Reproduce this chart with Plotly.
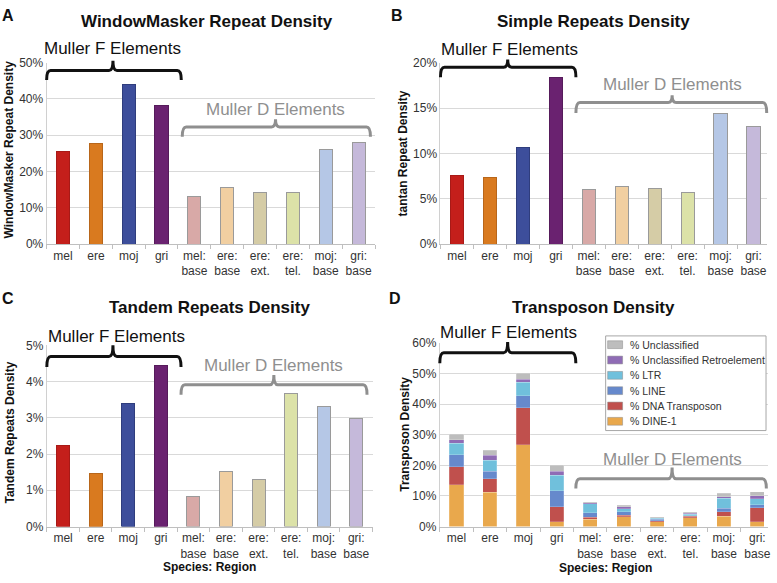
import plotly.graph_objects as go

# categories (species: region)
categories = ["mel", "ere", "moj", "gri", "mel:<br>base", "ere:<br>base",
              "ere:<br>ext.", "ere:<br>tel.", "moj:<br>base", "gri:<br>base"]
bar_colors = ["#c41f1b", "#d97a1f", "#3d4e9b", "#6a2270",
              "#d8a9a7", "#f1cfa1", "#d5cca6", "#dce2a8", "#b5c7e6", "#c5b9da"]
bar_lines = ["#a81a17", "#b8661a", "#2f3d7d", "#561b5b",
             "#9a9a9a", "#9a9a9a", "#9a9a9a", "#9a9a9a", "#9a9a9a", "#9a9a9a"]

# panel values (% density)
windowmasker = [25.6, 27.7, 43.9, 38.1, 13.1, 15.6, 14.3, 14.3, 26.1, 27.9]
tantan = [7.6, 7.3, 10.7, 18.4, 6.0, 6.4, 6.1, 5.7, 14.4, 13.0]
tandem = [2.24, 1.45, 3.39, 4.44, 0.82, 1.53, 1.31, 3.66, 3.32, 2.97]

# transposon classes (stacked)
dine1 = [13.7, 11.2, 26.7, 1.5, 2.4, 3.2, 1.6, 2.8, 3.4, 1.5]
dna_tp = [5.9, 4.5, 12.1, 4.9, 0.7, 0.5, 0.3, 0.5, 1.5, 4.6]
line_el = [3.8, 2.4, 3.9, 5.3, 1.4, 1.1, 0.4, 0.3, 1.1, 1.0]
ltr = [3.9, 3.5, 4.5, 5.1, 2.9, 1.0, 0.4, 0.4, 3.2, 2.0]
unc_retro = [1.0, 1.7, 1.0, 1.3, 0.4, 0.6, 0.2, 0.3, 0.6, 1.0]
unclassified = [1.8, 1.7, 2.0, 1.9, 0.3, 0.5, 0.3, 0.3, 1.0, 1.3]

te_names = ["% DINE-1", "% DNA Transposon", "% LINE", "% LTR",
            "% Unclassified Retroelement", "% Unclassified"]
te_values = [dine1, dna_tp, line_el, ltr, unc_retro, unclassified]
te_colors = ["#e9a84c", "#c0504d", "#6689cc", "#70c0dc", "#8f6cb5", "#bdbdbd"]

FONT = "Liberation Sans, Arial, sans-serif"
W, H = 777, 583
xpos = list(range(len(categories)))


def px(x):
    return x / W


def py(y):
    return 1 - y / H


fig = go.Figure()

panels = [("", windowmasker), ("2", tantan), ("3", tandem)]
for sfx, vals in panels:
    fig.add_trace(go.Bar(x=xpos, y=vals, width=0.4, showlegend=False,
                         marker=dict(color=bar_colors, line=dict(color=bar_lines, width=1)),
                         xaxis="x" + sfx, yaxis="y" + sfx))

for name, vals, col in zip(te_names, te_values, te_colors):
    fig.add_trace(go.Bar(x=xpos, y=vals, width=0.42, name=name, showlegend=False,
                         marker=dict(color=col, line=dict(color="rgba(255,255,255,0.4)", width=0.5)),
                         xaxis="x4", yaxis="y4"))

# pixel boxes of each plot area: left, right, top, bottom
boxes = {
    "": (46.8, 376.5, 57, 243),
    "2": (442.2, 770, 57, 243),
    "3": (47, 374, 346.7, 532.3),
    "4": (441.5, 771, 344.3, 532.3),
}
xranges = {"": [-0.5, 9.5], "2": [-0.5, 9.41], "3": [-0.5, 9.5], "4": [-0.5, 9.32]}
yinfo = {"": (50, 10), "2": (20, 5), "3": (5, 1), "4": (60, 10)}

layout = dict(
    width=W, height=H, margin=dict(l=0, r=0, t=0, b=0),
    plot_bgcolor="white", paper_bgcolor="white",
    barmode="stack", font=dict(family=FONT, color="#333333"),
)
for sfx, (l, r, t, b) in boxes.items():
    ymax, step = yinfo[sfx]
    tv = list(range(0, ymax + 1, step))
    layout["xaxis" + sfx] = dict(
        domain=[px(l), px(r)], anchor="y" + sfx, range=xranges[sfx],
        tickvals=xpos, ticktext=categories, ticks="", showgrid=False,
        showline=True, linecolor="#bfbfbf", linewidth=1,
        tickfont=dict(size=12, color="#333333"),
        minor=dict(ticks="outside", tick0=0.5, dtick=1, ticklen=4, tickcolor="#bfbfbf"),
    )
    layout["yaxis" + sfx] = dict(
        domain=[py(b), py(t)], anchor="x" + sfx, range=[0, ymax],
        tickvals=tv, ticktext=[f"{v}%" for v in tv],
        showgrid=True, gridcolor="#d9d9d9", gridwidth=1,
        showline=True, linecolor="#d0d0d0", zeroline=False,
        tickfont=dict(size=12, color="#333333"),
    )
fig.update_layout(**layout)


def bracket(sfx, x0, x1, xn, yline, yend, ynub, color, label, lx, ly):
    ymax = yinfo[sfx][0]
    xr = xranges[sfx]
    fx = lambda v: (v - xr[0]) / (xr[1] - xr[0])
    fy = lambda v: v / ymax
    rx = 0.12
    p = (f"M{fx(x0)},{fy(yend)} Q{fx(x0)},{fy(yline)} {fx(x0 + rx)},{fy(yline)} "
         f"L{fx(xn - rx)},{fy(yline)} Q{fx(xn)},{fy(yline)} {fx(xn)},{fy(ynub)} "
         f"Q{fx(xn)},{fy(yline)} {fx(xn + rx)},{fy(yline)} "
         f"L{fx(x1 - rx)},{fy(yline)} Q{fx(x1)},{fy(yline)} {fx(x1)},{fy(yend)}")
    fig.add_shape(type="path", path=p, xref="x" + sfx + " domain",
                  yref="y" + sfx + " domain", line=dict(color=color, width=3))
    fig.add_annotation(x=fx(lx), y=fy(ly), xref="x" + sfx + " domain", yref="y" + sfx + " domain",
                       text=label, showarrow=False, font=dict(size=17, color=color),
                       xanchor="center", yanchor="middle")


BLACK, GRAY = "#111111", "#8f8f8f"
# panel A
bracket("", -0.5, 3.6, 1.52, 47.8, 45.2, 50.5, BLACK, "Muller F Elements", 1.5, 53.8)
bracket("", 3.63, 9.36, 6.47, 32.3, 29.6, 34.4, GRAY, "Muller D Elements", 6.47, 37.1)
# panel B
bracket("2", -0.5, 3.61, 1.54, 19.5, 18.4, 20.35, BLACK, "Muller F Elements", 1.58, 21.5)
bracket("2", 3.61, 9.4, 6.53, 15.6, 14.45, 16.4, GRAY, "Muller D Elements", 6.53, 17.6)
# panel C
bracket("3", -0.5, 3.62, 1.53, 4.69, 4.40, 5.0, BLACK, "Muller F Elements", 1.63, 5.25)
bracket("3", 3.62, 9.33, 6.47, 3.91, 3.64, 4.18, GRAY, "Muller D Elements", 6.47, 4.45)
# panel D
bracket("4", -0.5, 3.57, 1.53, 56.8, 53.4, 60.3, BLACK, "Muller F Elements", 1.56, 63.5)
bracket("4", 3.57, 9.27, 6.45, 15.6, 12.4, 19.3, GRAY, "Muller D Elements", 6.45, 22.0)


def text(x, y, s, size, angle=0, bold=True, color="#111111", anchor="center"):
    fig.add_annotation(x=px(x), y=py(y), xref="paper", yref="paper", text=s,
                       showarrow=False, textangle=angle, xanchor=anchor, yanchor="middle",
                       font=dict(size=size, color=color, family=FONT, weight="bold" if bold else "normal"))


# panel letters and titles
text(8, 9, "A", 16)
text(399, 9, "B", 16)
text(8, 299, "C", 16)
text(397, 299, "D", 16)
text(207.5, 15, "WindowMasker Repeat Density", 17)
text(595.5, 15, "Simple Repeats Density", 17)
text(210, 308, "Tandem Repeats Density", 17)
text(596.3, 308, "Transposon Density", 17)
# y axis titles
text(10, 146, "WindowMasker Repeat Density", 12, -90)
text(404.7, 150, "tantan Repeat Density", 12, -90)
text(10, 436, "Tandem Repeats Density", 12, -90)
text(406.3, 437.5, "Transposon Density", 12, -90)
# x axis titles
text(210, 574, "Species: Region", 12)
text(608, 575, "Species: Region", 12)

# legend box for panel D (drawn in page pixels)
fig.add_shape(type="rect", xref="paper", yref="paper", x0=px(608), x1=px(769),
              y0=py(434), y1=py(337), fillcolor="white", line=dict(color="#a6a6a6", width=1))
for i, (name, col) in enumerate(zip(reversed(te_names), reversed(te_colors))):
    yc = 346 + i * 15.7
    fig.add_shape(type="rect", xref="paper", yref="paper", x0=px(610), x1=px(625),
                  y0=py(yc + 4), y1=py(yc - 4), fillcolor=col, line=dict(color="#888888", width=0.5))
    text(630, yc, name, 10.5, bold=False, color="#333333", anchor="left")

# page body has a default margin; remove it so the figure fills the window
fig.write_html("out.html", config={"displayModeBar": False},
               post_script="document.body.style.margin='0px';document.body.style.overflow='hidden';")
